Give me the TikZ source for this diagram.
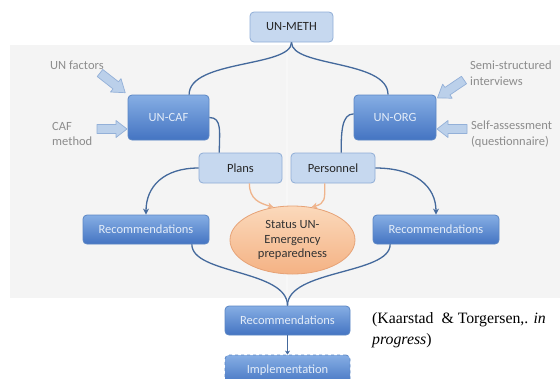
\documentclass[tikz,border=0pt]{standalone}
\usepackage{fontspec}
\setmainfont{Carlito}
\newfontfamily\citefont{Liberation Serif}
\usetikzlibrary{arrows.meta,shapes.geometric}

\definecolor{panelgray}{HTML}{F4F4F4}
\definecolor{lightfill}{HTML}{C6D8EF}
\definecolor{lightedge}{HTML}{8FADD6}
\definecolor{darktop}{HTML}{86AEE4}
\definecolor{darkbot}{HTML}{4474C2}
\definecolor{darkedge}{HTML}{5B86C4}
\definecolor{darktext}{HTML}{E3ECF8}
\definecolor{linkblue}{HTML}{44699C}
\definecolor{orangelink}{HTML}{EFB48C}
\definecolor{ovaltop}{HTML}{FBD9BB}
\definecolor{ovalbot}{HTML}{F4B284}
\definecolor{ovaledge}{HTML}{E6A276}
\definecolor{notegray}{HTML}{8C8C8C}
\definecolor{arrowfill}{HTML}{BBD0EA}
\definecolor{arrowedge}{HTML}{93B0D8}

\tikzset{
  lightbox/.style={draw=lightedge, fill=lightfill, rounded corners=4pt,
    line width=0.8pt, inner sep=0pt, font=\fontsize{12.5}{14}\selectfont, text=black!85},
  darkbox/.style={draw=darkedge, top color=darktop, bottom color=darkbot,
    rounded corners=4pt, line width=0.8pt, inner sep=0pt,
    font=\fontsize{12.5}{14}\selectfont, text=darktext},
  oval/.style={ellipse, draw=ovaledge, top color=ovaltop, bottom color=ovalbot,
    line width=0.8pt, inner sep=0pt, align=center,
    font=\fontsize{12.5}{14.5}\selectfont, text=black!80},
  note/.style={text=notegray, align=left, inner sep=0pt, anchor=north west,
    font=\fontsize{12.5}{15.5}\selectfont},
  link/.style={draw=linkblue, line width=1.3pt},
  linkarrow/.style={link, -{Stealth[length=6pt,width=6pt]}},
  orangearrow/.style={draw=orangelink, line width=1.3pt,
    -{Stealth[length=6pt,width=6pt]}},
  blockarrow/.style={draw=arrowedge, fill=arrowfill, line width=0.7pt, line join=round}
}

\begin{document}
\begin{tikzpicture}[x=1pt, y=-1pt]
\useasboundingbox (0,0) rectangle (560,378);
\clip (0,0) rectangle (560,378);

% background panel
\fill[panelgray] (10,45) rectangle (560,298);
\draw[white, line width=1.2pt, opacity=0.35] (287,46) -- (287,297);

% boxes
\node[lightbox, minimum width=83pt, minimum height=30pt] (meth) at (291.5,27) {UN-METH};
\node[darkbox, minimum width=81pt, minimum height=45pt] (caf) at (168.5,117.5) {UN-CAF};
\node[darkbox, minimum width=82pt, minimum height=45pt] (org) at (395,117.5) {UN-ORG};
\node[lightbox, minimum width=83pt, minimum height=30pt] (plans) at (240.5,168) {Plans};
\node[lightbox, minimum width=84pt, minimum height=30pt] (pers) at (333,168) {Personnel};
\node[darkbox, minimum width=126pt, minimum height=29pt] (recL) at (146,229.5) {Recommendations};
\node[darkbox, minimum width=126pt, minimum height=29pt] (recR) at (436,229.5) {Recommendations};
\node[oval, minimum width=125pt, minimum height=68pt] (status) at (292.5,240)
  {Status UN-\\Emergency\\preparedness};
\node[darkbox, minimum width=125pt, minimum height=29pt] (recB) at (287.5,320.5) {Recommendations};
\node[darkbox, dashed, minimum width=125pt, minimum height=30pt] (impl) at (287.5,370) {Implementation};

% inputs
\node[note] (unf) at (50,61) {UN factors};
\node[note] (cafm) at (52,122) {CAF\\method};
\node[note] (semi) at (470,61) {Semi-structured\\interviews};
\node[note] (self) at (471,121) {Self-assessment\\(questionnaire)};

% block arrows feeding the two analyses
\begin{scope}[shift={(100,73)}, rotate=-38]
  \draw[blockarrow] (0,-4.5) -- (20,-4.5) -- (20,-8.5) -- (32,0) -- (20,8.5) -- (20,4.5) -- (0,4.5) -- cycle;
\end{scope}
\begin{scope}[shift={(97,129)}]
  \draw[blockarrow] (0,-4.5) -- (19,-4.5) -- (19,-8.5) -- (30,0) -- (19,8.5) -- (19,4.5) -- (0,4.5) -- cycle;
\end{scope}
\begin{scope}[shift={(464,80)}, rotate=214]
  \draw[blockarrow] (0,-4.5) -- (20,-4.5) -- (20,-8.5) -- (32,0) -- (20,8.5) -- (20,4.5) -- (0,4.5) -- cycle;
\end{scope}
\begin{scope}[shift={(467,129)}, rotate=180]
  \draw[blockarrow] (0,-4.5) -- (19,-4.5) -- (19,-8.5) -- (30,0) -- (19,8.5) -- (19,4.5) -- (0,4.5) -- cycle;
\end{scope}

% connectors
\draw[link] (meth.south) .. controls +(0,25) and +(0,-35) .. (caf.48);
\draw[link] (meth.south) .. controls +(0,25) and +(0,-35) .. (org.107);
\draw[link] (caf.east) .. controls +(13,0) and +(0,-20) .. (plans.144);
\draw[link] (org.175) .. controls +(-12,0) and +(0,-20) .. (pers.62);
\draw[linkarrow] (plans.west) .. controls +(-35,0) and +(0,-28) .. (recL.north);
\draw[linkarrow] (pers.east) .. controls +(40,0) and +(0,-28) .. (recR.north);
\draw[orangearrow] (plans.-60) .. controls +(0,16) and +(-14,-4) .. (status.120);
\draw[orangearrow] (pers.-118) .. controls +(0,16) and +(14,-4) .. (status.60);
\draw[link] (recL.-18) .. controls +(0,30) and +(0,-36) .. (recB.north);
\draw[link] (recR.198) .. controls +(0,30) and +(0,-36) .. (recB.north);
\draw[link, -{Stealth[length=4pt,width=5pt]}, line width=1pt] (recB.south) -- (impl.north);

% source
\node[anchor=north west, align=left, inner sep=0pt,
  font=\citefont\fontsize{15.8}{21}\selectfont, text=black] (cite) at (372,312)
  {(Kaarstad~ \& Torgersen,. \textit{in}\\\textit{progress})};
\end{tikzpicture}
\end{document}
